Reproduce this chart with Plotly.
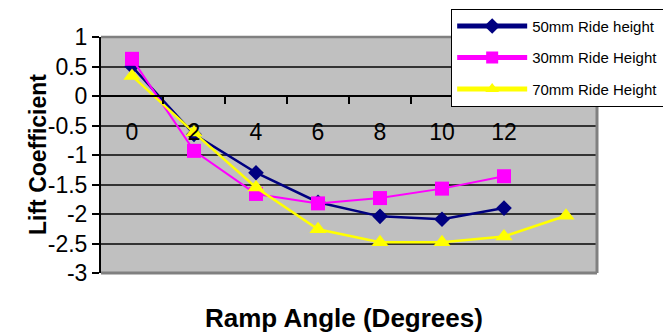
import plotly.graph_objects as go

angles = [0, 2, 4, 6, 8, 10, 12, 14]
tick_labels = ["0", "2", "4", "6", "8", "10", "12"]
y_ticks = [1, 0.5, 0, -0.5, -1, -1.5, -2, -2.5, -3]
y_tick_text = ["1", "0.5", "0", "-0.5", "-1", "-1.5", "-2", "-2.5", "-3"]

lift_50mm = [0.50, -0.65, -1.30, -1.80, -2.04, -2.09, -1.90]
lift_30mm = [0.63, -0.93, -1.66, -1.82, -1.73, -1.57, -1.36]
lift_70mm = [0.34, -0.62, -1.55, -2.26, -2.48, -2.48, -2.38, -2.03]

names = ["50mm Ride height", "30mm Ride Height", "70mm Ride Height"]

FONT = "Liberation Sans, Arial, sans-serif"

fig = go.Figure()
fig.add_trace(go.Scatter(
    x=angles[:len(lift_50mm)], y=lift_50mm, name=names[0], legendgroup="a",
    mode="lines+markers",
    line=dict(color="#000080", width=2.5),
    marker=dict(symbol="diamond", size=12, color="#000080"),
))
fig.add_trace(go.Scatter(
    x=angles[:len(lift_30mm)], y=lift_30mm, name=names[1], legendgroup="b",
    mode="lines+markers",
    line=dict(color="#FF00FF", width=2),
    marker=dict(symbol="square", size=14, color="#FF00FF"),
))
fig.add_trace(go.Scatter(
    x=angles[:len(lift_70mm)], y=lift_70mm, name=names[2], legendgroup="c",
    mode="lines+markers",
    line=dict(color="#FFFF00", width=2.5),
    marker=dict(symbol="triangle-up", size=15, color="#FFFF00"),
))

fig.update_layout(
    width=663, height=336,
    margin=dict(l=101, r=66, t=37, b=63, autoexpand=False),
    paper_bgcolor="white",
    plot_bgcolor="#C0C0C0",
    font=dict(family=FONT, color="black"),
    showlegend=True,
    legend=dict(
        x=0.706, y=1.12, xanchor="left", yanchor="top",
        bgcolor="white", bordercolor="black", borderwidth=1,
        font=dict(size=15, family=FONT, color="black"),
        itemwidth=70, tracegroupgap=9, itemsizing="constant",
    ),
    xaxis=dict(
        range=[-1, 15],
        anchor="free", position=0.75,
        tickmode="array", tickvals=angles[:len(tick_labels)], ticktext=tick_labels,
        ticks="", showgrid=False, zeroline=False,
        showline=True, linecolor="black", linewidth=1.5,
        tickfont=dict(size=23, family=FONT, color="black"),
        ticklabelstandoff=16,
        minor=dict(tickvals=[a + 1 for a in angles], ticks="outside",
                   ticklen=7, tickcolor="black", tickwidth=1.5, showgrid=False),
    ),
    yaxis=dict(
        range=[-3, 1],
        tickmode="array", tickvals=y_ticks, ticktext=y_tick_text,
        ticks="outside", ticklen=7, tickcolor="black", tickwidth=1.5,
        showline=True, linecolor="black", linewidth=2,
        showgrid=True, gridcolor="#333333", gridwidth=1.5,
        zeroline=False,
        tickfont=dict(size=23, family=FONT, color="black"),
    ),
    shapes=[
        dict(type="line", xref="paper", yref="paper", x0=0, x1=1, y0=1, y1=1,
             line=dict(color="#808080", width=2.5), layer="above"),
        dict(type="line", xref="paper", yref="paper", x0=1, x1=1, y0=0, y1=1,
             line=dict(color="#808080", width=3), layer="above"),
        dict(type="line", xref="paper", yref="paper", x0=0, x1=1, y0=0, y1=0,
             line=dict(color="#808080", width=3), layer="above"),
    ],
    annotations=[
        dict(text="<b>Lift Coefficient</b>", xref="paper", yref="paper",
             x=-0.127, y=0.5, xanchor="center", yanchor="middle",
             textangle=-90, showarrow=False,
             font=dict(size=23, family=FONT, color="black")),
        dict(text="<b>Ramp Angle (Degrees)</b>", xref="paper", yref="paper",
             x=0.49, y=-0.19, xanchor="center", yanchor="middle",
             showarrow=False,
             font=dict(size=26, family=FONT, color="black")),
    ],
)

fig.write_html("out.html")
